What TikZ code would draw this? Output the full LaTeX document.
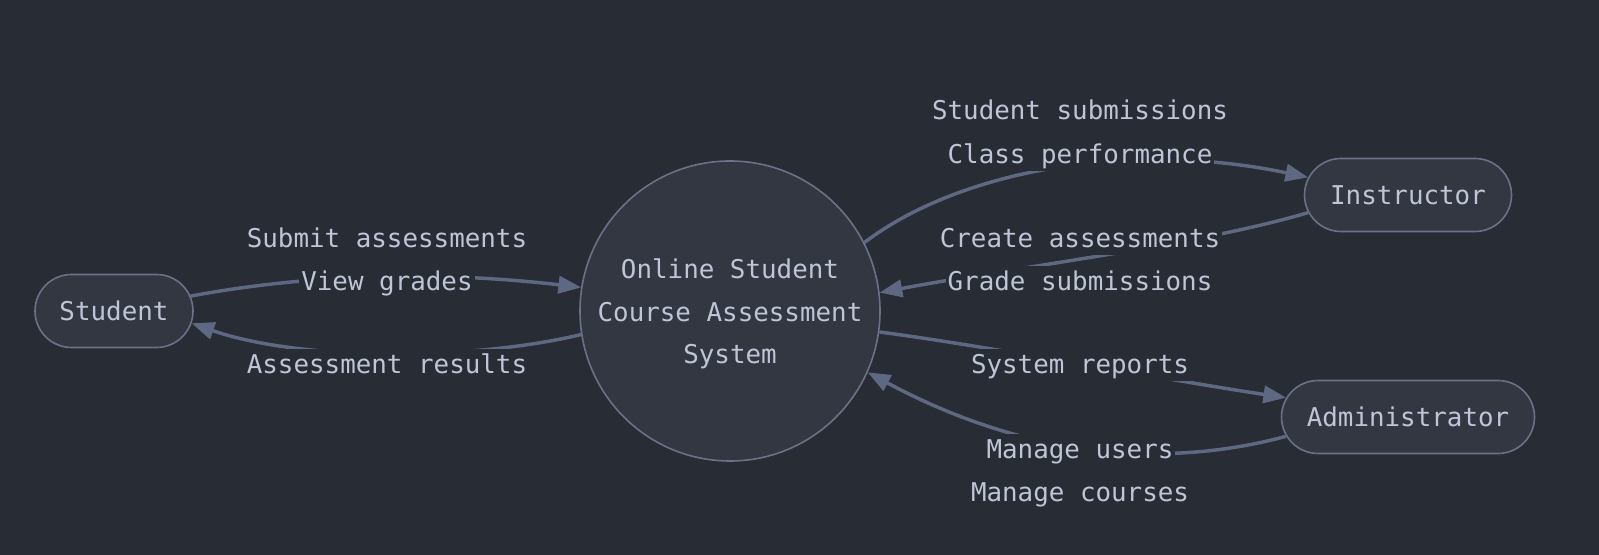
\documentclass[tikz,border=0pt]{standalone}
\usepackage{fontspec}
\newfontfamily\diamono{DejaVu Sans Mono}
\usetikzlibrary{arrows.meta,shapes.misc}
\definecolor{bgc}{HTML}{282C34}
\definecolor{nodefill}{HTML}{333742}
\definecolor{nodeline}{HTML}{6A7288}
\definecolor{txt}{HTML}{BDC5D6}
\definecolor{edgec}{HTML}{5F6882}
\tikzset{
  every node/.style={font=\diamono\fontsize{19.4}{32}\selectfont, text=txt},
  entity/.style={rounded rectangle, draw=nodeline, fill=nodefill, line width=1.2pt,
    minimum height=54.75pt, inner sep=0pt},
  process/.style={circle, draw=nodeline, fill=nodefill, line width=1.2pt,
    minimum size=225pt, inner sep=0pt, align=center},
  flow/.style={draw=edgec, line width=2.6pt, -{Triangle[length=17pt,width=13pt]}},
  lbl/.style={fill=bgc, inner sep=1.5pt, text height=17pt, text depth=4pt, yshift=-1pt},
}
\begin{document}
\begin{tikzpicture}[x=0.75pt,y=-0.75pt]
\fill[bgc] (0,0) rectangle (1599,555);
\useasboundingbox (0,0) rectangle (1599,555);

\node[process] (sys) at (730,311) {};
\node[align=center] (systxt) at (730,314) {Online Student\\Course Assessment\\System};
\node[entity, minimum width=118.5pt] (stu) at (114,311) {Student};
\node[entity, minimum width=155.25pt] (ins) at (1408,195) {Instructor};
\node[entity, minimum width=189.75pt] (adm) at (1408,417) {Administrator};

% Student -> System
\draw[flow] (stu.11) .. controls (320,272) and (450,272) .. (sys.171);
\node[lbl] (l1a) at (387,238) {Submit assessments};
\node[lbl] (l1b) at (387,281) {View grades};

% System -> Student
\draw[flow] (sys.189) .. controls (470,361) and (300,361) .. (stu.-9);
\node[lbl] (l2a) at (387,364) {Assessment results};

% System -> Instructor
\draw[flow] (sys.27) .. controls (960,170) and (1130,140) .. (ins.170);
\node[lbl] (l3a) at (1080,110) {Student submissions};
\node[lbl] (l3b) at (1080,154) {Class performance};

% Instructor -> System
\draw[flow] (ins.190) .. controls (1200,245) and (1010,268) .. (sys.7.7);
\node[lbl] (l4a) at (1080,238) {Create assessments};
\node[lbl] (l4b) at (1080,281) {Grade submissions};

% System -> Administrator
\draw[flow] (sys.-8.8) .. controls (980,345) and (1180,382) .. (adm.171);
\node[lbl] (l5a) at (1080,364) {System reports};

% Administrator -> System
\draw[flow] (adm.189) .. controls (1180,465) and (1040,465) .. (sys.-24.5);
\node[lbl] (l6a) at (1080,449) {Manage users};
\node[lbl] (l6b) at (1080,492) {Manage courses};
\end{tikzpicture}
\end{document}
